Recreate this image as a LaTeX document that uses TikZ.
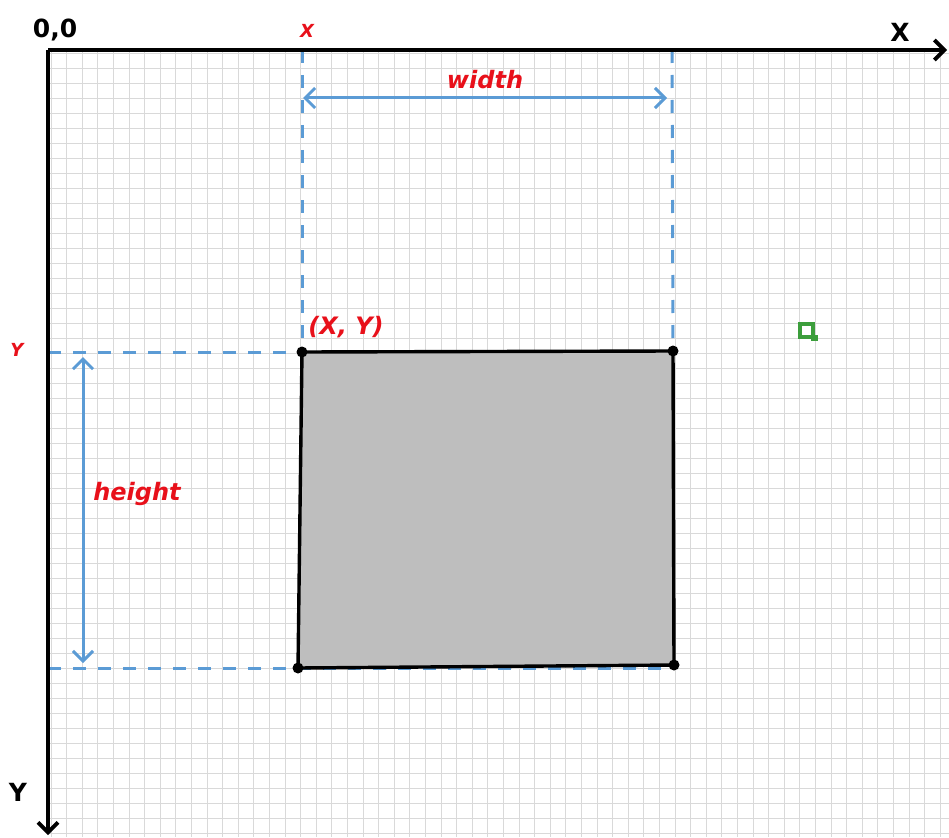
\documentclass[tikz,border=0pt]{standalone}
\usepackage{fontspec}
\setmainfont{DejaVu Sans}
\usepackage{tikz}
\usetikzlibrary{arrows.meta}
\definecolor{rgblue}{HTML}{5B9BD5}
\definecolor{rgred}{HTML}{E8101A}
\definecolor{rggrid}{HTML}{D9D9D9}
\definecolor{rggreen}{HTML}{3C9E3C}
\definecolor{rgfill}{HTML}{BEBEBE}

\begin{document}
\begin{tikzpicture}[x=1pt, y=-1pt,
  gridline/.style={draw=rggrid, line width=1pt},
  axisline/.style={draw=black, line width=3.8pt, -{Straight Barb[length=10pt, width=20pt]}},
  guide/.style={draw=rgblue, line width=3pt, dash pattern=on 13pt off 12pt},
  measure/.style={draw=rgblue, line width=3pt, {Straight Barb[length=10pt, width=20pt]}-{Straight Barb[length=10pt, width=20pt]}},
  axislabel/.style={font=\fontsize{25}{28}\selectfont\bfseries, text=black, inner sep=0pt},
  marklabel/.style={font=\fontsize{18}{20}\selectfont\bfseries\itshape, text=rgred, inner sep=0pt},
  dimlabel/.style={font=\fontsize{24}{28}\selectfont\bfseries\itshape, text=rgred, inner sep=0pt},
  corner/.style={circle, fill=black, inner sep=0pt, minimum size=11pt}]
  \useasboundingbox[fill=white] (0,0) rectangle (949,837);
  \foreach \i in {-1,...,56} \draw[gridline] ({66.7+15.6*\i},50) -- ({66.7+15.6*\i},837);
  \foreach \j in {-1,...,51} \draw[gridline] (48,{68.3+15*\j}) -- (949,{68.3+15*\j});
  \coordinate (origin) at (48,50);
  \coordinate (xend) at (947,50);
  \coordinate (yend) at (48,835);
  \coordinate (tl) at (302,352);
  \coordinate (tr) at (673,351);
  \coordinate (br) at (674,665);
  \coordinate (bl) at (298,668);
  \coordinate (xtop) at (302,50);
  \coordinate (wtop) at (672,50);
  \coordinate (yleft) at (48,352);
  \coordinate (hleft) at (48,668);
  \coordinate (hright) at (674,668);
  \coordinate (wa) at (303,98);
  \coordinate (wb) at (667,98);
  \coordinate (ha) at (83,357);
  \coordinate (hb) at (83,663);
  \draw[guide] (xtop) -- (tl);
  \draw[guide] (wtop) -- (tr);
  \draw[guide] (yleft) -- (tl);
  \draw[guide] (hleft) -- (hright);
  \draw[measure] (wa) -- (wb);
  \draw[measure] (ha) -- (hb);
  \filldraw[fill=rgfill, draw=black, line width=3.4pt, line join=round] (tl) -- (tr) -- (br) -- (bl) -- cycle;
  \node[corner] (ctl) at (tl) {};
  \node[corner] (ctr) at (tr) {};
  \node[corner] (cbr) at (br) {};
  \node[corner] (cbl) at (bl) {};
  \draw[axisline] (origin) -- (xend);
  \draw[axisline] (origin) -- (yend);
  \node[axislabel] (orig) at (55,30) {0,0};
  \node[axislabel] (xname) at (900,32) {X};
  \node[axislabel] (yname) at (18,792) {Y};
  \node[marklabel] (xmark) at (307,31) {X};
  \node[marklabel] (ymark) at (17,350) {Y};
  \node[dimlabel] (wlabel) at (485,80) {width};
  \node[dimlabel] (hlabel) at (137,494) {height};
  \node[dimlabel] (plabel) at (346,327) {(X, Y)};
  \draw[draw=rggreen, line width=3.4pt] (800,324) rectangle (813,337);
  \fill[rggreen] (811,335) rectangle (818,341);
\end{tikzpicture}
\end{document}
